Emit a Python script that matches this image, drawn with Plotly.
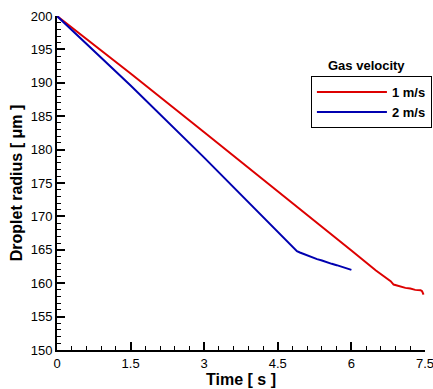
import plotly.graph_objects as go

# Data
t_1ms = [0, 1.5, 3.0, 4.5, 6.0, 6.5, 6.70, 6.76, 6.80, 6.86, 7.0, 7.1, 7.2, 7.3, 7.41, 7.44, 7.47]
r_1ms = [200, 191.4, 182.6, 173.8, 164.9, 161.9, 160.8, 160.4, 160.3, 159.8, 159.5, 159.3, 159.2, 159.0, 158.95, 158.8, 158.3]

t_2ms = [0, 1.5, 3.0, 4.5, 4.75, 4.85, 4.89, 4.95, 5.05, 5.1, 5.2, 5.3, 5.4, 5.5, 5.6, 5.7, 5.8, 5.9, 5.98, 6.0]
r_2ms = [200, 189.6, 178.8, 167.7, 165.9, 165.2, 164.8, 164.6, 164.3, 164.2, 163.9, 163.6, 163.4, 163.1, 162.9, 162.7, 162.5, 162.3, 162.1, 162.0]

series_names = ["1 m/s", "2 m/s"]
x_ticks = [0, 1.5, 3, 4.5, 6, 7.5]
x_tick_labels = ["0", "1.5", "3", "4.5", "6", "7.5"]
y_ticks = [150, 155, 160, 165, 170, 175, 180, 185, 190, 195, 200]

fig = go.Figure()
fig.add_trace(go.Scatter(x=t_1ms, y=r_1ms, mode="lines", name=series_names[0],
                         line=dict(color="#dd0000", width=2)))
fig.add_trace(go.Scatter(x=t_2ms, y=r_2ms, mode="lines", name=series_names[1],
                         line=dict(color="#0000b0", width=2)))

axis_font = dict(family="Liberation Sans, Arial", size=13, color="black")
title_font = dict(family="Liberation Sans, Arial", size=16, color="black")

fig.update_layout(
    width=433, height=389,
    margin=dict(l=57, r=8, t=16, b=39, autoexpand=False),
    paper_bgcolor="white", plot_bgcolor="white",
    showlegend=True,
    legend=dict(x=0.69, y=0.82, xanchor="left", yanchor="top",
                bordercolor="black", borderwidth=1, bgcolor="white",
                font=dict(family="Liberation Sans, Arial", size=13, color="black", weight="bold"),
                tracegroupgap=0, itemwidth=70),
    xaxis=dict(range=[0, 7.5], tickvals=x_ticks, ticktext=x_tick_labels,
               showline=True, linecolor="black", linewidth=2, mirror=False, automargin=False,
               ticklabeloverflow="allow",
               ticks="inside", ticklen=8, tickwidth=2, tickcolor="black",
               showgrid=False, zeroline=False, tickfont=axis_font,
               minor=dict(dtick=0.3, ticks="inside", ticklen=4, tickwidth=1, tickcolor="black", showgrid=False),
               title=dict(text="<b>Time [ s ]</b>", font=title_font, standoff=2)),
    yaxis=dict(range=[150, 200], tickvals=y_ticks,
               showline=True, linecolor="black", linewidth=2, mirror=False, automargin=False,
               ticklabeloverflow="allow",
               ticks="inside", ticklen=8, tickwidth=2, tickcolor="black",
               showgrid=False, zeroline=False, tickfont=axis_font,
               minor=dict(dtick=1, ticks="inside", ticklen=4, tickwidth=1, tickcolor="black", showgrid=False),
               title=dict(text="<b>Droplet radius [ μm ]</b>", font=title_font, standoff=4)),
    annotations=[dict(text="<b>Gas velocity</b>", xref="paper", yref="paper",
                      x=0.84, y=0.823, xanchor="center", yanchor="bottom", showarrow=False,
                      font=dict(family="Liberation Sans, Arial", size=13, color="black"))],
)

fig.write_html("out.html")
